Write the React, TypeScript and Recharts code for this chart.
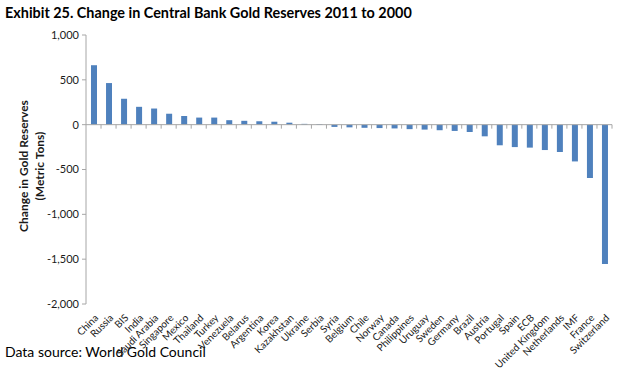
import React from "react";
import { BarChart, Bar, XAxis, YAxis, ReferenceLine } from "recharts";

const categories = [
  "China", "Russia", "BIS", "India", "Saudi Arabia", "Singapore", "Mexico", "Thailand",
  "Turkey", "Venezuela", "Belarus", "Argentina", "Korea", "Kazakhstan", "Ukraine", "Serbia",
  "Syria", "Belgium", "Chile", "Norway", "Canada", "Philippines", "Uruguay", "Sweden",
  "Germany", "Brazil", "Austria", "Portugal", "Spain", "ECB", "United Kingdom", "Netherlands",
  "IMF", "France", "Switzerland",
];

const changes = [
  663, 464, 289, 199, 180, 122, 97, 79,
  79, 50, 43, 38, 33, 22, 9, 7,
  -25, -30, -35, -38, -42, -50, -55, -62,
  -70, -82, -130, -230, -250, -256, -283, -305,
  -410, -595, -1555,
];

const yTicks = [1000, 500, 0, -500, -1000, -1500, -2000];

const data = categories.map((name, i) => ({ name, value: changes[i] }));

const FONT = "Lato, 'Open Sans', sans-serif";
const AXIS = "#A6A6A6";

const fmt = (v: number) => v.toLocaleString("en-US");

const XTick = (props: any) => {
  const { x, y, payload } = props;
  return (
    <g transform={`translate(${x + 3},${y + 4})`}>
      <text
        textAnchor="end"
        transform="rotate(-45)"
        fontSize={10}
        fontFamily={FONT}
        fill="#1a1a1a"
        dy="0.35em"
      >
        {payload.value}
      </text>
    </g>
  );
};

const ZeroAxis = (props: any) => {
  const { x1, x2, y1 } = props;
  if (x1 == null || x2 == null || y1 == null) return null;
  const n = categories.length;
  const step = (x2 - x1) / n;
  return (
    <g>
      <line x1={x1} y1={y1} x2={x2} y2={y1} stroke={AXIS} strokeWidth={1} />
      {categories.map((c, i) => (
        <line
          key={c}
          x1={x1 + (i + 1) * step}
          x2={x1 + (i + 1) * step}
          y1={y1}
          y2={y1 + 4}
          stroke={AXIS}
          strokeWidth={1}
        />
      ))}
    </g>
  );
};

export default function App() {
  return (
    <div
      style={{
        position: "absolute",
        left: 0,
        top: 0,
        width: 620,
        height: 368,
        background: "#fff",
        fontFamily: FONT,
        overflow: "hidden",
      }}
    >
      <div
        style={{
          position: "absolute",
          left: 5,
          top: 3,
          fontSize: 14.4,
          fontWeight: 700,
          color: "#000",
          whiteSpace: "nowrap",
          lineHeight: "20px",
        }}
      >
        Exhibit 25. Change in Central Bank Gold Reserves 2011 to 2000
      </div>
      <div
        style={{
          position: "absolute",
          left: 32,
          top: 166,
          transform: "translate(-50%, -50%) rotate(-90deg)",
          fontSize: 12,
          fontWeight: 700,
          color: "#1a1a1a",
          textAlign: "center",
          whiteSpace: "nowrap",
          lineHeight: "16px",
        }}
      >
        Change in Gold Reserves
        <br />
        (Metric Tons)
      </div>
      <div
        style={{
          position: "absolute",
          left: 5,
          top: 343,
          fontSize: 14,
          color: "#000",
          whiteSpace: "nowrap",
          lineHeight: "18px",
        }}
      >
        Data source: World Gold Council
      </div>
      <div style={{ position: "absolute", left: 0, top: 0 }}>
        <BarChart
          width={620}
          height={368}
          data={data}
          margin={{ top: 35, right: 8, left: 0, bottom: 0 }}
        >
          <XAxis
            dataKey="name"
            height={64}
            axisLine={false}
            tickLine={false}
            interval={0}
            tick={<XTick />}
          />
          <YAxis
            width={86}
            domain={[-2000, 1000]}
            ticks={yTicks}
            interval={0}
            tickFormatter={fmt}
            tickSize={4}
            tickMargin={3}
            axisLine={{ stroke: AXIS }}
            tickLine={{ stroke: AXIS }}
            tick={{ fontSize: 11, fill: "#1a1a1a", fontFamily: FONT }}
          />
          <ReferenceLine y={0} shape={<ZeroAxis />} />
          <Bar dataKey="value" fill="#4F81BD" barSize={6} isAnimationActive={false} />
        </BarChart>
      </div>
    </div>
  );
}
